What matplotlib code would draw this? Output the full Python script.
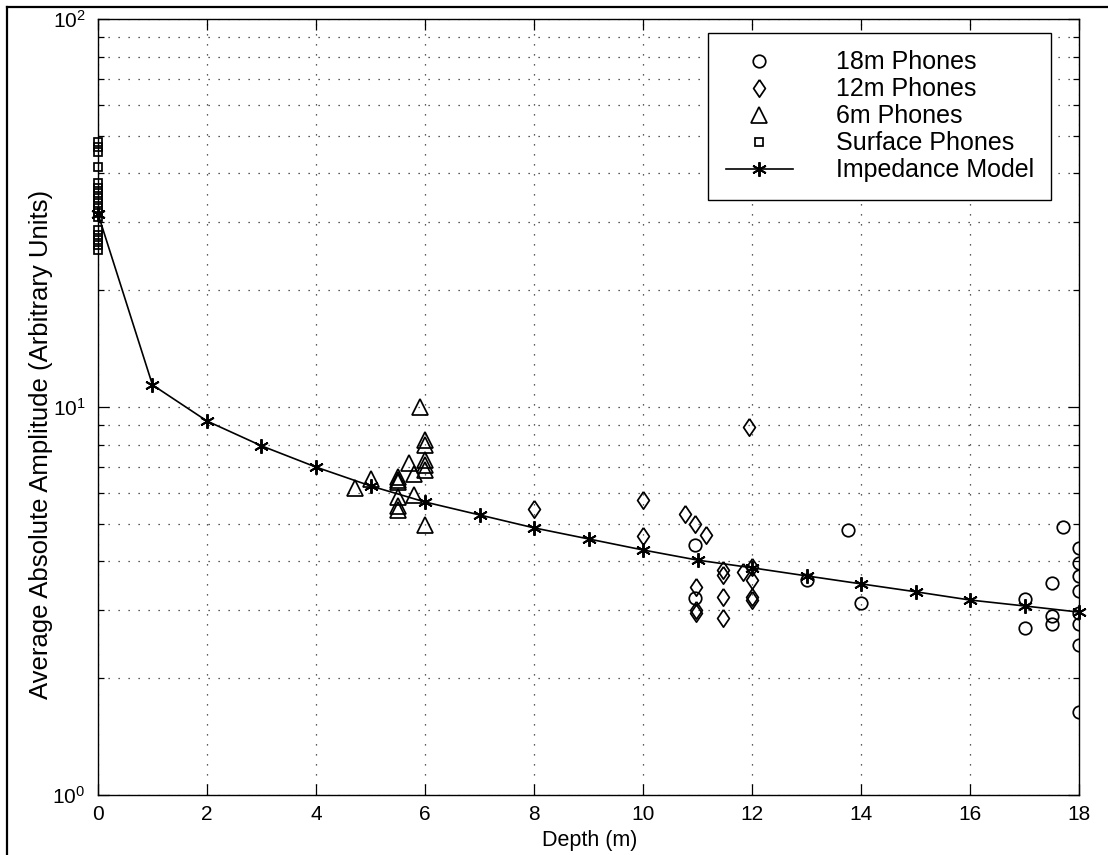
import numpy as np
import matplotlib
matplotlib.use('Agg')
from matplotlib import pyplot as plt
from matplotlib.lines import Line2D
from matplotlib.ticker import LogLocator, NullFormatter

plt.rcParams['font.family'] = ['Liberation Sans', 'DejaVu Sans']
plt.rcParams['mathtext.fontset'] = 'custom'
plt.rcParams['mathtext.rm'] = 'Liberation Sans'

# Impedance model, one value per metre of depth
model_depth = np.arange(0, 19)
model_amp = [31.5, 11.4, 9.2, 7.94, 7.0, 6.26, 5.69, 5.27, 4.88, 4.57,
             4.28, 4.03, 3.85, 3.67, 3.50, 3.34, 3.18, 3.07, 2.96]

# surface phones (all at 0 m)
surf_depth = [0] * 17
surf_amp = [48.2, 46.8, 45.4, 41.6, 37.8, 36.7, 35.6, 34.5, 33.6, 32.6,
            31.7, 30.8, 28.6, 27.8, 27.0, 26.2, 25.4]

# 6m phones
p6_depth = [5.9, 6.0, 6.0, 6.0, 6.0, 6.0, 5.7, 5.8, 5.5, 5.5, 5.5,
            5.0, 4.72, 5.8, 5.5, 5.5, 5.5, 6.0]
p6_amp = [10.0, 8.22, 7.98, 7.30, 7.09, 6.88, 7.17, 6.72, 6.60, 6.50, 6.42,
          6.52, 6.19, 5.93, 5.86, 5.56, 5.43, 4.96]

# 12m phones
p12_depth = [8.0, 10.0, 10.0, 10.77, 10.95, 11.16, 11.95, 10.97, 10.97,
             10.97, 11.47, 11.47, 11.47, 11.47, 11.83, 12.0, 12.0, 12.0,
             12.0]
p12_amp = [5.46, 5.77, 4.64, 5.30, 4.99, 4.67, 8.88, 3.44, 3.0, 2.94,
           3.80, 3.69, 3.24, 2.86, 3.75, 3.87, 3.58, 3.24, 3.18]

# 18m phones
p18_depth = [10.95, 10.95, 13.0, 13.75, 14.0, 17.0, 17.0, 17.5, 17.5, 17.5,
             17.7, 18.0, 18.0, 18.0, 18.0, 18.0, 18.0, 18.0, 18.0]
p18_amp = [4.40, 3.22, 3.58, 4.82, 3.12, 3.20, 2.69, 3.52, 2.89, 2.76,
           4.91, 4.33, 3.96, 3.67, 3.36, 2.94, 2.76, 2.44, 1.64]

xticks = list(range(0, 19, 2))

# matlab-style diamond, a bit taller than wide
diamond = [(0, 1), (0.68, 0), (0, -1), (-0.68, 0), (0, 1)]

fig = plt.figure(figsize=(11.08, 8.55), dpi=100)
ax = fig.add_axes([0.0884, 0.0702, 0.8856, 0.9076])

mk = dict(linestyle='none', markerfacecolor='none', markeredgecolor='k',
          markeredgewidth=1.25)
ax.plot(p18_depth, p18_amp, marker='o', markersize=9, label='18m Phones',
        **mk)
ax.plot(p12_depth, p12_amp, marker=diamond, markersize=12.5,
        label='12m Phones', clip_on=False, **mk)
ax.plot(p6_depth, p6_amp, marker='^', markersize=11, label='6m Phones',
        clip_on=False, **mk)
ax.plot(surf_depth, surf_amp, marker='s', markersize=5.5,
        label='Surface Phones', clip_on=False, **mk)
ax.plot(model_depth, model_amp, color='k', lw=1.2, marker=(6, 2, 0),
        markersize=10.5, markeredgewidth=1.4, label='Impedance Model',
        clip_on=False)

ax.set_yscale('log')
ax.set_xlim(0, 18)
ax.set_ylim(1, 100)
ax.set_xticks(xticks)
ax.yaxis.set_major_locator(LogLocator(base=10))
ax.yaxis.set_minor_locator(LogLocator(base=10, subs=np.arange(2, 10)))
ax.yaxis.set_minor_formatter(NullFormatter())

ax.tick_params(which='both', direction='in', top=True, right=True,
               labelsize=15, width=0.9)
ax.tick_params(axis='x', which='major', length=8, pad=7)
ax.tick_params(axis='y', which='major', length=8, pad=9)
ax.tick_params(axis='y', which='minor', length=4)

dots = (0, (1, 7))
ax.grid(True, which='major', axis='x', linestyle=dots, color='0.15', lw=0.9)
ax.grid(True, which='both', axis='y', linestyle=dots, color='0.15', lw=0.9)
for sp in ax.spines.values():
    sp.set_linewidth(1.0)

ax.set_xlabel('Depth (m)', fontsize=15.5)
ax.xaxis.set_label_coords(0.5015, -0.045)
ax.set_ylabel('Average Absolute Amplitude (Arbitrary Units)', fontsize=18.5)
ax.yaxis.set_label_coords(-0.046, 0.452)

leg = ax.legend(loc='upper right', bbox_to_anchor=(0.9715, 0.982),
                fontsize=18, fancybox=False, framealpha=1,
                edgecolor='k', borderpad=0.7, labelspacing=0.12,
                handlelength=2.7, handletextpad=1.7, borderaxespad=0)
leg.get_frame().set_linewidth(1.0)

# border lines along the left and top of the page
fig.add_artist(Line2D([7 / 1108, 7 / 1108], [0, 1 - 7 / 855], color='k',
                      lw=1.6))
fig.add_artist(Line2D([7 / 1108, 1], [1 - 7 / 855, 1 - 7 / 855], color='k',
                      lw=1.6))

fig.savefig('out.png', dpi=100)
